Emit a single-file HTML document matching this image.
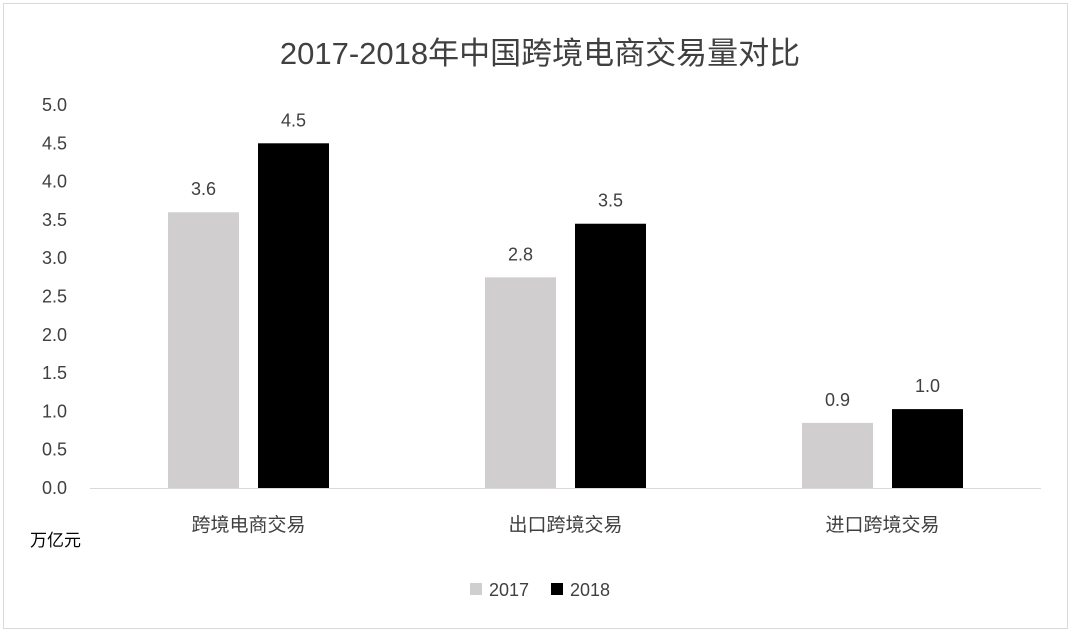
<!DOCTYPE html>
<html><head><meta charset="utf-8">
<style>
body{margin:0;background:#fff;width:1080px;height:642px;overflow:hidden}
svg{display:block;font-family:"Liberation Sans","Noto Sans CJK SC",sans-serif}
</style></head>
<body>
<svg id="chart" width="1080" height="642" viewBox="0 0 1080 642">
<rect x="3.5" y="3.5" width="1064" height="625" fill="#fff" stroke="#d9d9d9"/>
<text x="540" y="64" text-anchor="middle" font-size="31" fill="#404040">2017-2018年中国跨境电商交易量对比</text>
<text x="30" y="546" font-size="17" fill="#000">万亿元</text>
<g id="yticks"></g>
<g id="bars"></g>
<g id="xlabels"></g>
<line x1="90" y1="488.5" x2="1041" y2="488.5" stroke="#d9d9d9"/>
<g>
<rect x="470" y="583" width="12" height="12" fill="#d0cece"/>
<text x="489" y="596" font-size="18" fill="#404040">2017</text>
<rect x="551" y="583" width="12" height="12" fill="#000"/>
<text x="570" y="596" font-size="18" fill="#404040">2018</text>
</g>
</svg>
<script>
const categories=["跨境电商交易","出口跨境交易","进口跨境交易"];
const values2017=[3.6,2.75,0.85];
const values2018=[4.5,3.45,1.03];
const labels2017=["3.6","2.8","0.9"];
const labels2018=["4.5","3.5","1.0"];
const yTicks=[0,0.5,1,1.5,2,2.5,3,3.5,4,4.5,5];
const NS="http://www.w3.org/2000/svg";
const left=90,right=1041,y0=488,yMax=5,yTop=105;
function y(v){return y0-(v/yMax)*(y0-yTop);}
const bw=(right-left)/categories.length;
function x(i){return left+bw*i+bw/2;}
function mk(tag,attrs,parent){const e=document.createElementNS(NS,tag);for(const k in attrs)e.setAttribute(k,attrs[k]);parent.appendChild(e);return e;}
const gt=document.getElementById('yticks'),gb=document.getElementById('bars'),gx=document.getElementById('xlabels');
yTicks.forEach(t=>{
 const e=mk('text',{x:67,y:y(t)+6,'text-anchor':'end','font-size':18,fill:'#404040'},gt);
 
 
 e.textContent=t.toFixed(1);
});
const barW=71;
categories.forEach((c,i)=>{
 const cx=x(i);
 [[values2017,labels2017,'#d0cece',-1,'2017'],[values2018,labels2018,'#000',1,'2018']].forEach(s=>{
  const v=s[0][i];const bx=s[3]<0?cx-barW-9.5:cx+9.5;
  const r=mk('rect',{x:bx,y:y(v),width:barW,height:y0-y(v),fill:s[2]},gb);
  
  
  const t=mk('text',{x:bx+barW/2,y:y(v)-17,'text-anchor':'middle','font-size':18,fill:'#404040'},gb);
  
  
  t.textContent=s[1][i];
 });
 const l=mk('text',{x:cx,y:531,'text-anchor':'middle','font-size':19,fill:'#404040'},gx);
 
 
 l.textContent=c;
});
</script>
</body></html>
